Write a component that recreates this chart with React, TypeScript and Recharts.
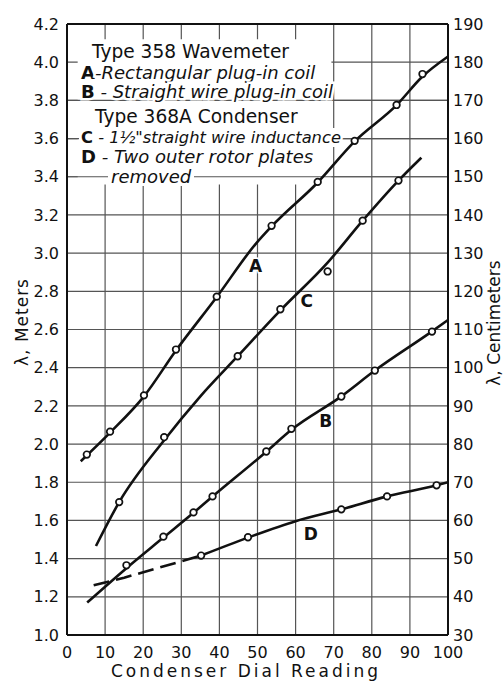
import React from "react";
import {
  ComposedChart,
  Line,
  Scatter,
  XAxis,
  YAxis,
  CartesianGrid,
  ReferenceArea,
  ReferenceLine,
} from "recharts";

// axis ticks
const dialTicks = [0, 10, 20, 30, 40, 50, 60, 70, 80, 90, 100];
const meterTicks = [1.0, 1.2, 1.4, 1.6, 1.8, 2.0, 2.2, 2.4, 2.6, 2.8, 3.0, 3.2, 3.4, 3.6, 3.8, 4.0, 4.2];
const cmTicks = [30, 40, 50, 60, 70, 80, 90, 100, 110, 120, 130, 140, 150, 160, 170, 180, 190];

// Type 358 wavemeter curves, lambda in meters (left scale)
const curveA = [
  { x: 3.6, y: 1.91 }, { x: 11.3, y: 2.06 }, { x: 20.2, y: 2.25 }, { x: 28.6, y: 2.49 },
  { x: 39.3, y: 2.77 }, { x: 49.6, y: 3.05 }, { x: 53.7, y: 3.14 }, { x: 65.8, y: 3.37 },
  { x: 75.5, y: 3.585 }, { x: 86.5, y: 3.775 }, { x: 93.3, y: 3.925 }, { x: 100, y: 4.03 },
];
const curveB = [
  { x: 5.3, y: 1.17 }, { x: 15.6, y: 1.35 }, { x: 25.3, y: 1.51 }, { x: 33.2, y: 1.64 },
  { x: 38.2, y: 1.725 }, { x: 52.3, y: 1.96 }, { x: 58.9, y: 2.075 }, { x: 72, y: 2.25 },
  { x: 80.8, y: 2.385 }, { x: 95.8, y: 2.59 }, { x: 100, y: 2.65 },
];
const pointsA = [
  { x: 5.2, y: 1.945 }, { x: 11.3, y: 2.065 }, { x: 20.2, y: 2.255 }, { x: 28.6, y: 2.495 },
  { x: 39.3, y: 2.772 }, { x: 53.7, y: 3.143 }, { x: 65.8, y: 3.373 }, { x: 75.5, y: 3.588 },
  { x: 86.5, y: 3.776 }, { x: 93.3, y: 3.938 },
];
const pointsB = [
  { x: 15.6, y: 1.365 }, { x: 25.3, y: 1.515 }, { x: 33.2, y: 1.642 }, { x: 38.2, y: 1.726 },
  { x: 52.3, y: 1.961 }, { x: 58.9, y: 2.08 }, { x: 72, y: 2.249 }, { x: 80.8, y: 2.385 },
  { x: 95.8, y: 2.589 },
];

// Type 368A condenser curves, lambda in centimeters (right scale)
const curveC = [
  { x: 7.6, y: 53.3 }, { x: 13.7, y: 64.8 }, { x: 25.5, y: 81 }, { x: 35, y: 92.5 },
  { x: 44.8, y: 103 }, { x: 56, y: 115 }, { x: 68.4, y: 127.5 }, { x: 77.6, y: 138.5 },
  { x: 87, y: 149 }, { x: 93, y: 155 },
];
const curveDDashed = [{ x: 7, y: 43 }, { x: 15, y: 45 }, { x: 35.2, y: 50.8 }];
const curveD = [
  { x: 35.2, y: 50.8 }, { x: 47.5, y: 55.5 }, { x: 60, y: 59.8 }, { x: 72, y: 62.9 },
  { x: 84, y: 66.3 }, { x: 97, y: 69.2 }, { x: 100, y: 70 },
];
const pointsC = [
  { x: 13.7, y: 64.8 }, { x: 25.5, y: 81.8 }, { x: 44.8, y: 103 }, { x: 56, y: 115.3 },
  { x: 68.4, y: 125.2 }, { x: 77.6, y: 138.5 }, { x: 87, y: 149 },
];
const pointsD = [
  { x: 35.2, y: 50.8 }, { x: 47.5, y: 55.6 }, { x: 72, y: 62.9 }, { x: 84, y: 66.3 },
  { x: 97, y: 69.2 },
];

const lettersM = [
  { x: 49.5, y: 2.93, t: "A" },
  { x: 67.9, y: 2.12, t: "B" },
];
const lettersCm = [
  { x: 62.9, y: 117.5, t: "C" },
  { x: 64, y: 56.5, t: "D" },
];

const FONT = "DejaVu Sans, sans-serif";
const GRID = "#555";
const INK = "#111";

const Ring = (props: any) => (
  <circle cx={props.cx} cy={props.cy} r={3.3} fill="#fff" stroke={INK} strokeWidth={1.7} />
);

const Letter = (props: any) => (
  <text
    x={props.cx}
    y={props.cy}
    textAnchor="middle"
    dominantBaseline="central"
    fontFamily={FONT}
    fontWeight="bold"
    fontSize={17}
    fill={INK}
    stroke="#fff"
    strokeWidth={3}
    paintOrder="stroke"
  >
    {props.payload.t}
  </text>
);

const halo = { stroke: "#fff", strokeWidth: 5, paintOrder: "stroke" as const };

export default function App() {
  const tick = { fontSize: 16, fill: INK, fontFamily: FONT };
  const lineProps = { stroke: INK, strokeWidth: 2.6, dot: false, isAnimationActive: false };
  return (
    <div style={{ position: "absolute", left: 0, top: 0, width: 503, height: 682, background: "#fff" }}>
      <ComposedChart width={503} height={682} margin={{ top: 24, right: 0, bottom: 0, left: 0 }}>
        <CartesianGrid yAxisId="m" stroke={GRID} strokeWidth={1.2} />
        <XAxis
          type="number"
          dataKey="x"
          domain={[0, 100]}
          ticks={dialTicks}
          tickLine={false}
          tickMargin={6}
          height={47}
          axisLine={{ stroke: INK, strokeWidth: 2 }}
          tick={tick}
          allowDataOverflow
        />
        <YAxis
          yAxisId="m"
          type="number"
          dataKey="y"
          domain={[1.0, 4.2]}
          ticks={meterTicks}
          tickFormatter={(v) => v.toFixed(1)}
          tickLine={false}
          width={67}
          axisLine={{ stroke: INK, strokeWidth: 2 }}
          tick={tick}
        />
        <YAxis
          yAxisId="cm"
          orientation="right"
          type="number"
          dataKey="y"
          domain={[30, 190]}
          ticks={cmTicks}
          tickLine={false}
          tickSize={4}
          tickMargin={1}
          width={55}
          axisLine={{ stroke: INK, strokeWidth: 2 }}
          tick={tick}
        />
        <ReferenceLine yAxisId="m" y={4.2} stroke={INK} strokeWidth={2} />
        <ReferenceArea yAxisId="m" x1={2.8} x2={69.4} y1={3.36} y2={4.12} fill="#fff" fillOpacity={1} stroke="none" />
        <ReferenceLine yAxisId="m" y={3.8} stroke={GRID} strokeWidth={1.2} />
        <ReferenceLine yAxisId="m" y={3.6} stroke={GRID} strokeWidth={1.2} />
        <ReferenceLine yAxisId="m" y={3.4} stroke={GRID} strokeWidth={1.2} />

        <Line yAxisId="m" data={curveA} dataKey="y" type="monotone" {...lineProps} />
        <Line yAxisId="m" data={curveB} dataKey="y" type="monotone" {...lineProps} />
        <Line yAxisId="cm" data={curveC} dataKey="y" type="monotone" {...lineProps} />
        <Line yAxisId="cm" data={curveDDashed} dataKey="y" type="linear" strokeDasharray="16 7" {...lineProps} />
        <Line yAxisId="cm" data={curveD} dataKey="y" type="monotone" {...lineProps} />

        <Scatter yAxisId="m" data={pointsA} shape={Ring} isAnimationActive={false} />
        <Scatter yAxisId="m" data={pointsB} shape={Ring} isAnimationActive={false} />
        <Scatter yAxisId="cm" data={pointsC} shape={Ring} isAnimationActive={false} />
        <Scatter yAxisId="cm" data={pointsD} shape={Ring} isAnimationActive={false} />
        <Scatter yAxisId="m" data={lettersM} shape={Letter} isAnimationActive={false} />
        <Scatter yAxisId="cm" data={lettersCm} shape={Letter} isAnimationActive={false} />
      </ComposedChart>

      <svg width={503} height={682} style={{ position: "absolute", left: 0, top: 0, pointerEvents: "none" }}>
        <g fontFamily={FONT} fill={INK}>
          <rect x={79} y={128} width={262} height={19} fill="#fff" />
          <rect x={108} y={168} width={86} height={18} fill="#fff" />
          <text x={92} y={58} fontSize={18.6} {...halo}>Type 358 Wavemeter</text>
          <text x={81} y={79} fontSize={18} {...halo}>
            <tspan fontWeight="bold">A</tspan>
            <tspan fontStyle="italic">-Rectangular plug-in coil</tspan>
          </text>
          <text x={81} y={98} fontSize={18} {...halo}>
            <tspan fontWeight="bold">B</tspan>
            <tspan fontStyle="italic"> - Straight wire plug-in coil</tspan>
          </text>
          <text x={95} y={123} fontSize={18.6} {...halo}>Type 368A Condenser</text>
          <text x={81} y={143} fontSize={16.3} {...halo}>
            <tspan fontWeight="bold">C</tspan>
            <tspan fontStyle="italic"> - 1½"straight wire inductance</tspan>
          </text>
          <text x={81} y={163} fontSize={18} {...halo}>
            <tspan fontWeight="bold">D</tspan>
            <tspan fontStyle="italic"> - Two outer rotor plates</tspan>
          </text>
          <text x={111} y={183} fontSize={18} fontStyle="italic">removed</text>

          <text
            x={22}
            y={322}
            fontSize={17}
            textAnchor="middle"
            dominantBaseline="central"
            transform="rotate(-90 22 322)"
            letterSpacing={1}
          >
            λ, Meters
          </text>
          <text
            x={494}
            y={323}
            fontSize={17}
            textAnchor="middle"
            dominantBaseline="central"
            transform="rotate(-90 494 323)"
          >
            λ, Centimeters
          </text>
          <text x={246} y={677} fontSize={17} textAnchor="middle" letterSpacing={3}>
            Condenser Dial Reading
          </text>
        </g>
      </svg>
    </div>
  );
}
